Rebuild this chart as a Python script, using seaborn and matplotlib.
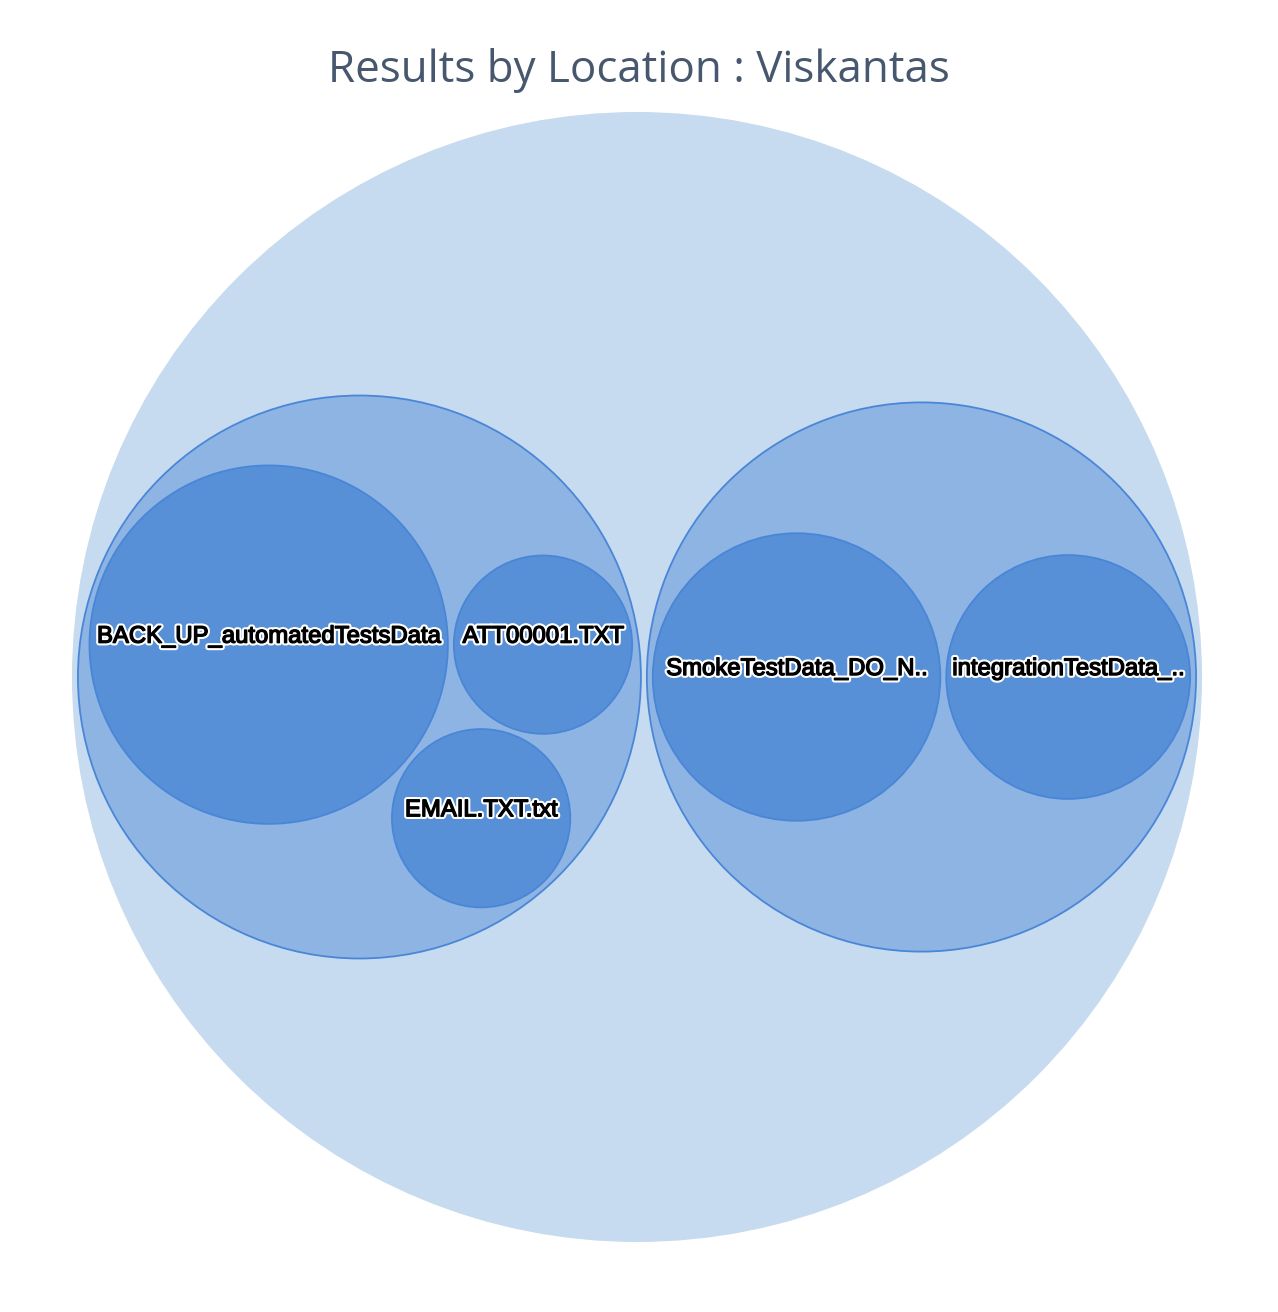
import numpy as np
import matplotlib
matplotlib.use("Agg")
import matplotlib.pyplot as plt
import matplotlib.patheffects as pe
from matplotlib.patches import Circle
import seaborn as sns

# === data ===
GROUPS = ["grupo_1", "grupo_2"]
LEAF_NAMES = ["BACK_UP_automatedTestsData", "ATT00001.TXT", "EMAIL.TXT.txt",
              "SmokeTestData_DO_N..", "integrationTestData_.."]
LEAF_GROUP = [0, 0, 0, 1, 1]
LEAF_VALUES = [40.4, 10.0, 10.0, 26.0, 18.7]

TITLE = "Results by Location : Viskantas"

COL_ROOT = "#c6dbef"
COL_GROUP = "#8db4e3"
COL_LEAF = "#5790d6"
COL_EDGE = "#4a86d8"
PAD = 3.0
K = 28.5  # px por sqrt(valor)


def place(a, b, rc):
    # c tangente a "a" y "b", por debajo
    (xa, ya, ra), (xb, yb, rb) = a, b
    d = np.hypot(xb - xa, yb - ya)
    da, db = ra + rc, rb + rc
    t = (da**2 - db**2 + d**2) / (2 * d)
    h = np.sqrt(max(da**2 - t**2, 0))
    ux, uy = (xb - xa) / d, (yb - ya) / d
    nx, ny = uy, -ux
    if ny > 0:
        nx, ny = -nx, -ny
    return xa + t * ux + h * nx, ya + t * uy + h * ny


def enclose(circ):
    circ = np.array(circ)
    f = lambda c: np.max(np.hypot(circ[:, 0] - c[0], circ[:, 1] - c[1]) + circ[:, 2])
    c = circ[:, :2].mean(axis=0)
    span = circ[:, 2].max() * 2 + 1
    for _ in range(40):
        g = np.linspace(-span, span, 21)
        best = min(((c[0] + dx, c[1] + dy) for dx in g for dy in g), key=f)
        c = np.array(best)
        span *= 0.3
    return c[0], c[1], f(c)


def pack(radii):
    # radii ya con padding; devuelve posiciones relativas al centro del circulo envolvente
    order = np.argsort(-np.array(radii), kind="stable")
    pos = {}
    r = [radii[i] for i in order]
    if len(r) >= 1:
        pos[order[0]] = (0.0, 0.0)
    if len(r) >= 2:
        pos[order[0]] = (-r[1], 0.0)
        pos[order[1]] = (r[0], 0.0)
    if len(r) >= 3:
        a = (*pos[order[0]], r[0])
        b = (*pos[order[1]], r[1])
        pos[order[2]] = place(a, b, r[2])
    circ = [(pos[i][0], pos[i][1], radii[i]) for i in range(len(radii))]
    cx, cy, e = enclose(circ)
    return [(p[0] - cx, p[1] - cy) for p in (pos[i] for i in range(len(radii)))], e


# === layout ===
leaf_r = np.sqrt(np.array(LEAF_VALUES)) * K
group_info = []
for g in range(len(GROUPS)):
    idx = [i for i in range(len(LEAF_VALUES)) if LEAF_GROUP[i] == g]
    rel, e = pack([leaf_r[i] + PAD for i in idx])
    group_info.append((idx, rel, e + PAD))

grel, e = pack([gi[2] + PAD for gi in group_info])
R = e + PAD

sns.set_theme(style="white")
fig = plt.figure(figsize=(12.78, 13.12), dpi=100)
ax = fig.add_axes([72 / 1278, 70 / 1312, 1130 / 1278, 1130 / 1312])
ax.set_xlim(-R, R)
ax.set_ylim(-R, R)
ax.set_axis_off()

efectos = [pe.withStroke(linewidth=4.0, foreground="white"),
           pe.withStroke(linewidth=1.0, foreground="black")]

ax.add_patch(Circle((0, 0), R, facecolor=COL_ROOT, edgecolor="none"))
for (idx, rel, gr), (gx, gy) in zip(group_info, grel):
    ax.add_patch(Circle((gx, gy), gr, facecolor=COL_GROUP, edgecolor=COL_EDGE, linewidth=1.3))
    for i, (lx, ly) in zip(idx, rel):
        cx, cy = gx + lx, gy + ly
        ax.add_patch(Circle((cx, cy), leaf_r[i], facecolor=COL_LEAF, edgecolor=COL_EDGE, linewidth=1.3))
        ax.text(cx, cy + 2, LEAF_NAMES[i], ha="center", va="baseline",
                fontsize=17.2, family="Liberation Sans", color="black",
                path_effects=efectos)

fig.text(0.5, 1 - 82 / 1312, TITLE, ha="center", va="baseline",
         fontsize=31.6, family="Open Sans", color="#46576e")

fig.savefig("out.png", dpi=100)
